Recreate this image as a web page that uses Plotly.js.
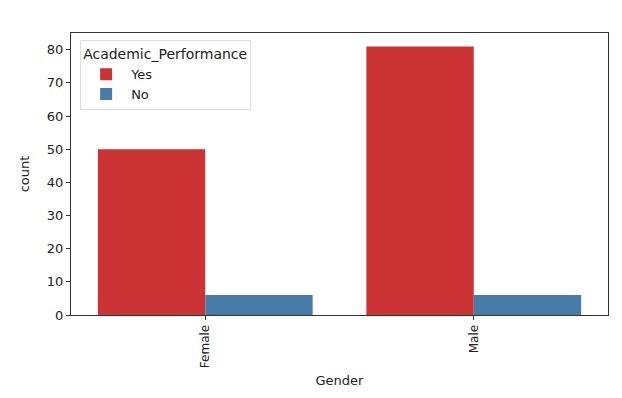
<!DOCTYPE html>
<html>
<head>
<meta charset="utf-8">
<script src="https://cdn.plot.ly/plotly-3.0.1.min.js"></script>
<style>
  html, body { margin: 0; padding: 0; background: #fff; }
  #chart { width: 622px; height: 398px; }
</style>
</head>
<body>
<div id="chart"></div>
<script>
var genders = ['Female', 'Male'];
var yesCounts = [50, 81];
var noCounts = [6, 6];
var yTicks = [0, 10, 20, 30, 40, 50, 60, 70, 80];

var font = { family: 'DejaVu Sans, sans-serif', size: 13, color: '#222' };

var traces = [
  {
    type: 'bar',
    name: 'Yes',
    x: genders,
    y: yesCounts,
    marker: { color: '#cb3335' },
    hoverinfo: 'y'
  },
  {
    type: 'bar',
    name: 'No',
    x: genders,
    y: noCounts,
    marker: { color: '#477ca8' },
    hoverinfo: 'y'
  }
];

var layout = {
  width: 622,
  height: 398,
  font: font,
  paper_bgcolor: '#fff',
  plot_bgcolor: '#fff',
  barmode: 'group',
  bargap: 0.2,
  bargroupgap: 0,
  margin: { l: 71, r: 14, t: 33, b: 83 },
  xaxis: {
    title: { text: 'Gender', font: { size: 13 }, standoff: 8 },
    range: [-0.5, 1.5],
    tickangle: -90,
    tickfont: { size: 12 },
    ticks: 'outside',
    ticklen: 4,
    tickcolor: '#333',
    showline: true,
    linecolor: '#333',
    linewidth: 1,
    mirror: true,
    showgrid: false,
    zeroline: false
  },
  yaxis: {
    title: { text: 'count', font: { size: 13 }, standoff: 14 },
    range: [0, 85.05],
    tickvals: yTicks,
    ticks: 'outside',
    ticklen: 4,
    tickcolor: '#333',
    showline: true,
    linecolor: '#333',
    linewidth: 1,
    mirror: true,
    showgrid: false,
    zeroline: false
  },
  showlegend: true,
  legend: {
    x: 0.017,
    y: 0.975,
    xanchor: 'left',
    yanchor: 'top',
    bgcolor: 'rgba(255,255,255,0.8)',
    bordercolor: '#ddd',
    borderwidth: 1,
    title: { text: 'Academic_Performance', side: 'top', font: { size: 14 } },
    font: { size: 13 },
    itemwidth: 40,
    tracegroupgap: 0
  }
};

Plotly.newPlot('chart', traces, layout, { displayModeBar: false, staticPlot: true });
</script>
</body>
</html>
